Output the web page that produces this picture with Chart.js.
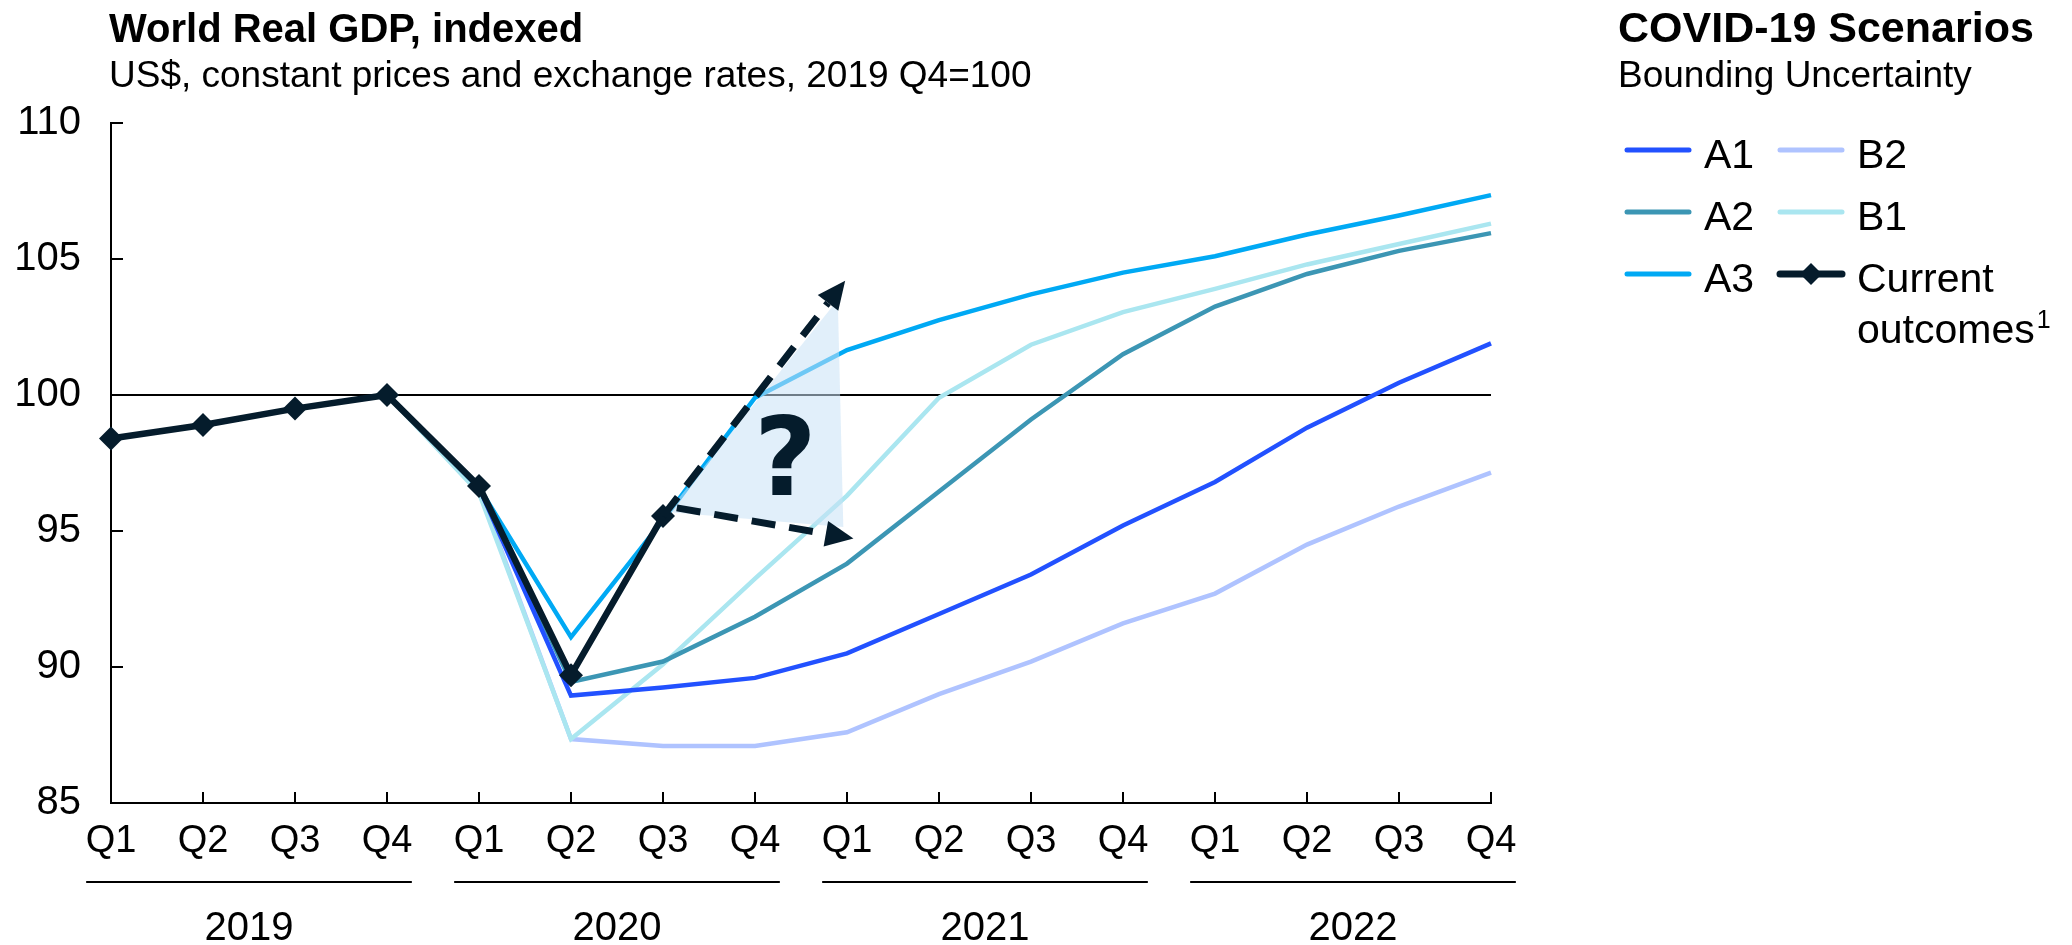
<!DOCTYPE html>
<html>
<head>
<meta charset="utf-8">
<script src="https://cdn.jsdelivr.net/npm/chart.js@4.4.1/dist/chart.umd.min.js"></script>
<style>
  html, body { margin: 0; padding: 0; background: #fff; }
</style>
</head>
<body>
<canvas id="gdpChart" width="2072" height="945"></canvas>
<script>
// Axis labels
const quarterLabels = ["Q1", "Q2", "Q3", "Q4", "Q1", "Q2", "Q3", "Q4", "Q1", "Q2", "Q3", "Q4", "Q1", "Q2", "Q3", "Q4"];
const yearLabels = ["2019", "2020", "2021", "2022"];
const yTicks = [85, 90, 95, 100, 105, 110];

// World real GDP index, 2019 Q4 = 100
const currentOutcomes = [98.4, 98.9, 99.5, 100, 96.65, 89.7, 95.55, null, null, null, null, null, null, null, null, null];
const scenarioA1 = [null, null, null, 100, 96.6, 88.95, 89.25, 89.6, 90.5, 91.95, 93.4, 95.2, 96.8, 98.8, 100.45, 101.9];
const scenarioA2 = [null, null, null, 100, 96.6, 89.45, 90.2, 91.85, 93.8, 96.45, 99.1, 101.5, 103.25, 104.45, 105.3, 105.95];
const scenarioA3 = [null, null, null, 100, 96.6, 91.1, 95.4, 99.9, 101.65, 102.75, 103.7, 104.5, 105.1, 105.9, 106.6, 107.35];
const scenarioB1 = [null, null, null, 100, 96.4, 87.35, 90.1, 93.25, 96.3, 99.9, 101.85, 103.05, 103.9, 104.8, 105.55, 106.3];
const scenarioB2 = [null, null, null, 100, 96.5, 87.35, 87.1, 87.1, 87.6, 89.0, 90.2, 91.6, 92.7, 94.5, 95.9, 97.15];

// "?" annotation, given as [quarter index, index value]
const arrowStart = [6, 95.55];
const upperArrowTip = [7.98, 104.2];
const lowerArrowStart = [6.15, 95.85];
const lowerArrowTip = [8.07, 94.72];
const shadeCorners = [[6.05, 95.7], [7.9, 103.5], [7.96, 95.15]];
const questionMarkAt = [7.33, 97.35];

const ink = "#051C2C";
const fontFamily = 'Arial, "Liberation Sans", sans-serif';
Chart.defaults.font.family = fontFamily;
Chart.defaults.color = "#000";

// legend columns, as in the original
const legendLayout = [
  ["A1", "A2", "A3"],
  ["B2", "B1", "Current outcomes"],
];

function drawDashedArrow(ctx, from, to) {
  const ang = Math.atan2(to[1] - from[1], to[0] - from[0]);
  const headLen = 28;
  const headHalf = 13;
  const bx = to[0] - headLen * Math.cos(ang);
  const by = to[1] - headLen * Math.sin(ang);

  ctx.strokeStyle = ink;
  ctx.lineWidth = 7;
  ctx.setLineDash([24, 14]);
  ctx.beginPath();
  ctx.moveTo(from[0], from[1]);
  ctx.lineTo(bx, by);
  ctx.stroke();
  ctx.setLineDash([]);

  ctx.fillStyle = ink;
  ctx.beginPath();
  ctx.moveTo(to[0], to[1]);
  ctx.lineTo(bx + headHalf * Math.sin(ang), by - headHalf * Math.cos(ang));
  ctx.lineTo(bx - headHalf * Math.sin(ang), by + headHalf * Math.cos(ang));
  ctx.closePath();
  ctx.fill();
}

const decorations = {
  id: "decorations",
  afterDatasetsDraw(chart) {
    const ctx = chart.ctx;
    const xs = chart.scales.x;
    const ys = chart.scales.y;
    const px = (p) => [xs.getPixelForValue(p[0]), ys.getPixelForValue(p[1])];

    ctx.save();
    // shaded range of outcomes
    ctx.fillStyle = "rgba(200, 225, 245, 0.55)";
    ctx.beginPath();
    shadeCorners.forEach((c, i) => {
      const p = px(c);
      if (i === 0) ctx.moveTo(p[0], p[1]);
      else ctx.lineTo(p[0], p[1]);
    });
    ctx.closePath();
    ctx.fill();

    drawDashedArrow(ctx, px(arrowStart), px(upperArrowTip));
    drawDashedArrow(ctx, px(lowerArrowStart), px(lowerArrowTip));

    const q = px(questionMarkAt);
    ctx.fillStyle = ink;
    ctx.font = 'bold 108px "DejaVu Sans", sans-serif';
    ctx.textAlign = "center";
    ctx.textBaseline = "middle";
    ctx.fillText("?", q[0], q[1]);
    ctx.restore();
  },
  afterDraw(chart) {
    const ctx = chart.ctx;
    const xs = chart.scales.x;
    const ys = chart.scales.y;
    const area = chart.chartArea;

    ctx.save();
    ctx.strokeStyle = "#000";
    ctx.lineWidth = 2;

    // inward tick marks
    yTicks.forEach((v) => {
      const yy = Math.round(ys.getPixelForValue(v));
      ctx.beginPath();
      ctx.moveTo(area.left, yy);
      ctx.lineTo(area.left + 12, yy);
      ctx.stroke();
    });
    quarterLabels.forEach((q, i) => {
      const xx = Math.round(xs.getPixelForValue(i));
      ctx.beginPath();
      ctx.moveTo(xx, area.bottom);
      ctx.lineTo(xx, area.bottom - 11);
      ctx.stroke();
    });

    // year groups under the quarters
    const step = xs.getPixelForValue(1) - xs.getPixelForValue(0);
    ctx.fillStyle = "#000";
    ctx.font = "40px " + fontFamily;
    ctx.textAlign = "center";
    ctx.textBaseline = "alphabetic";
    yearLabels.forEach((yr, i) => {
      const x0 = xs.getPixelForValue(i * 4) - step * 0.27;
      const x1 = xs.getPixelForValue(i * 4 + 3) + step * 0.27;
      ctx.beginPath();
      ctx.moveTo(x0, 882);
      ctx.lineTo(x1, 882);
      ctx.stroke();
      ctx.fillText(yr, (x0 + x1) / 2, 940);
    });

    // titles
    ctx.textAlign = "left";
    ctx.font = "bold 40px " + fontFamily;
    ctx.fillText("World Real GDP, indexed", 109, 42);
    ctx.font = "bold 43px " + fontFamily;
    ctx.fillText("COVID-19 Scenarios", 1618, 42);
    ctx.font = "37px " + fontFamily;
    ctx.fillText("US$, constant prices and exchange rates, 2019 Q4=100", 109, 87);
    ctx.fillText("Bounding Uncertainty", 1618, 87);

    // legend
    legendLayout.forEach((col, c) => {
      col.forEach((label, r) => {
        const ds = chart.data.datasets.find((d) => d.label === label);
        const lx = 1627 + c * 153;
        const ly = 150 + r * 62;
        ctx.strokeStyle = ds.borderColor;
        ctx.lineWidth = ds.pointRadius ? 7 : 5;
        ctx.lineCap = "round";
        ctx.beginPath();
        ctx.moveTo(lx, ly);
        ctx.lineTo(lx + 62, ly);
        ctx.stroke();
        if (ds.pointRadius) {
          ctx.fillStyle = ds.borderColor;
          Chart.helpers.drawPoint(ctx, { pointStyle: "rectRot", radius: 11, rotation: 0 }, lx + 31, ly);
        }
        ctx.fillStyle = "#000";
        ctx.font = "41px " + fontFamily;
        const words = label.split(" ");
        words.forEach((w, k) => {
          ctx.fillText(w, lx + 77, ly + 18 + k * 51);
        });
        if (words.length > 1) {
          const last = words[words.length - 1];
          const end = lx + 77 + ctx.measureText(last).width + 2;
          ctx.font = "25px " + fontFamily;
          ctx.fillText("1", end, ly + 18 + (words.length - 1) * 51 - 15);
        }
      });
    });
    ctx.restore();
  },
};

function lineSet(label, data, color) {
  return {
    label: label,
    data: data,
    borderColor: color,
    backgroundColor: color,
    borderWidth: 4.5,
    pointRadius: 0,
    pointHoverRadius: 0,
    tension: 0,
    clip: false,
  };
}

new Chart(document.getElementById("gdpChart"), {
  type: "line",
  data: {
    labels: quarterLabels,
    datasets: [
      {
        label: "Current outcomes",
        data: currentOutcomes,
        borderColor: ink,
        backgroundColor: ink,
        borderWidth: 6.5,
        pointStyle: "rectRot",
        pointRadius: 12,
        pointBorderWidth: 0,
        pointHoverRadius: 12,
        tension: 0,
        clip: false,
      },
      lineSet("A3", scenarioA3, "#00A9F4"),
      lineSet("A1", scenarioA1, "#2251FF"),
      lineSet("A2", scenarioA2, "#3C96B4"),
      lineSet("B1", scenarioB1, "#AAE6F0"),
      lineSet("B2", scenarioB2, "#AFC3FF"),
    ],
  },
  options: {
    responsive: false,
    animation: false,
    layout: { padding: { top: 123, right: 581, bottom: 0, left: 0 } },
    plugins: {
      legend: { display: false },
      tooltip: { enabled: false },
    },
    scales: {
      x: {
        offset: false,
        grid: { display: false, drawTicks: false },
        border: { display: true, color: "#000", width: 2 },
        ticks: { font: { size: 38 }, color: "#000", padding: 16, maxRotation: 0, autoSkip: false },
        afterFit: (s) => { s.height = 142; },
      },
      y: {
        min: 85,
        max: 110,
        ticks: { stepSize: 5, padding: 30, font: { size: 40 }, color: "#000" },
        grid: {
          drawTicks: false,
          lineWidth: 2,
          color: (c) => (c.tick && c.tick.value === 100 ? "#000" : "rgba(0,0,0,0)"),
        },
        border: { display: true, color: "#000", width: 2 },
        afterFit: (s) => { s.width = 111; },
      },
    },
  },
  plugins: [decorations],
});
</script>
</body>
</html>
